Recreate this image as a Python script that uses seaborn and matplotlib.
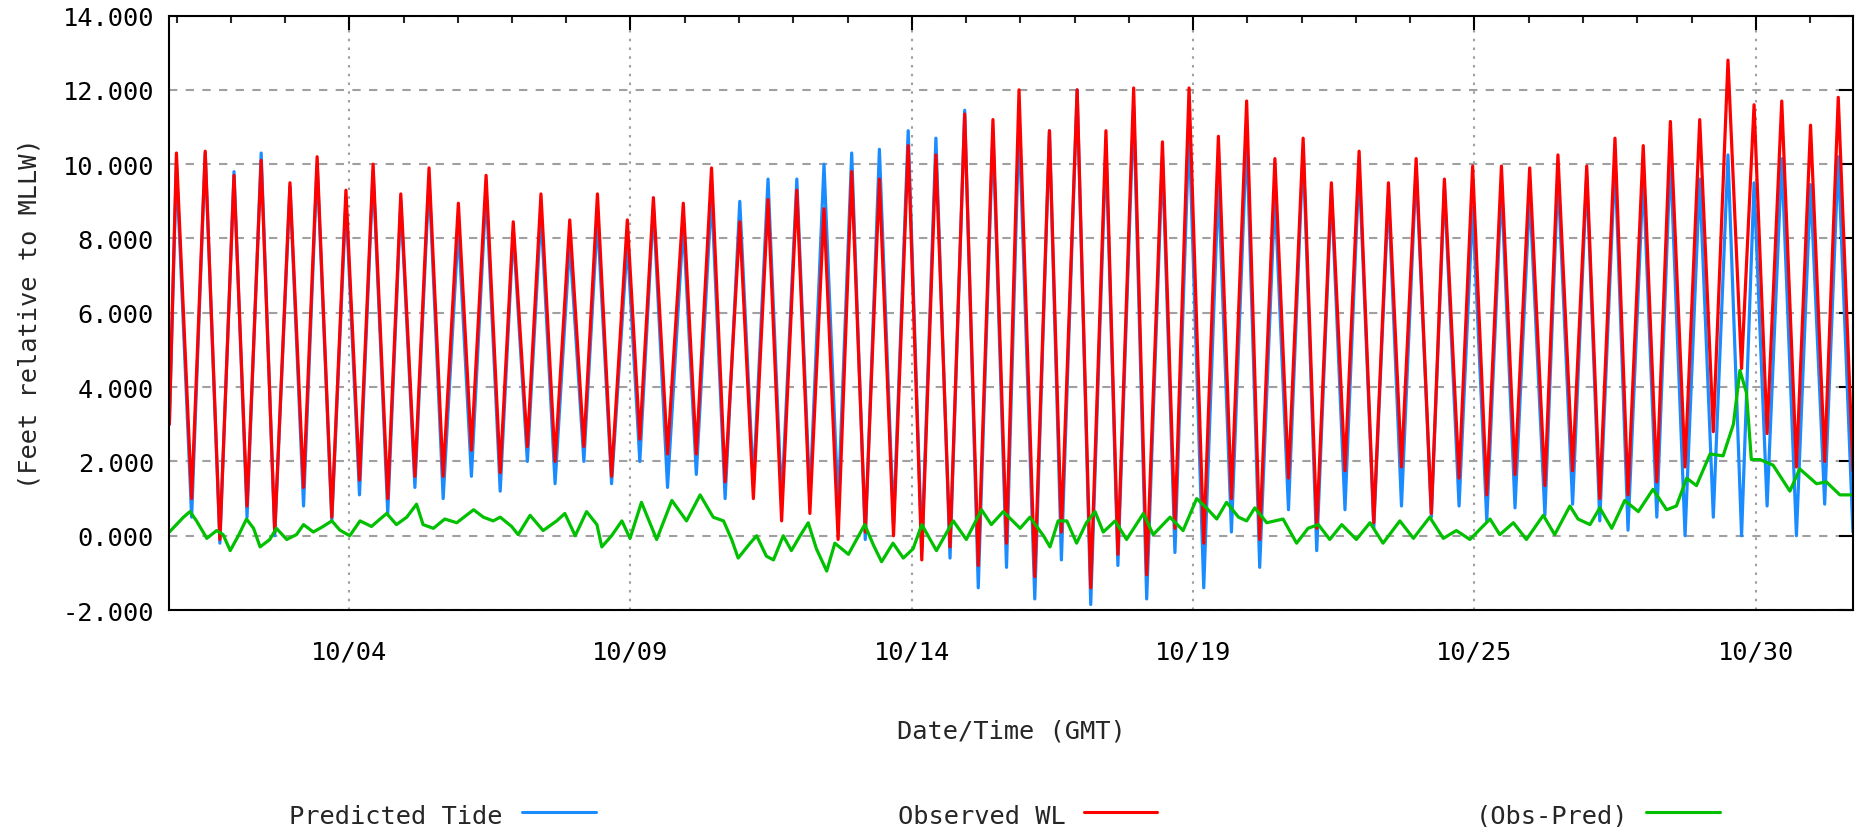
import numpy as np
import pandas as pd
import matplotlib
matplotlib.use("Agg")
import matplotlib.pyplot as plt
import matplotlib.dates as mdates
from matplotlib.lines import Line2D
from matplotlib.ticker import FixedLocator, FormatStrFormatter
import seaborn as sns

# ---------------- data (days since 10/01 00:00 GMT) ----------------
start_level_obs = 3.0
start_level_pred = 3.0

high_day = [0.13, 0.66, 1.19, 1.69, 2.22, 2.72, 3.25, 3.75, 4.26, 4.78,
            5.32, 5.83, 6.33, 6.84, 7.37, 7.88, 8.43, 8.91, 9.46, 9.98,
            10.50, 11.02, 11.55, 12.05, 12.56, 13.07, 13.60, 14.11, 14.64, 15.16,
            15.64, 16.20, 16.71, 17.24, 17.75, 18.28, 18.77, 19.31, 19.83, 20.35,
            20.87, 21.39, 21.90, 22.44, 22.95, 23.47, 23.99, 24.52, 25.04, 25.56,
            26.09, 26.61, 27.13, 27.63, 28.17, 28.69, 29.17, 29.68, 30.21, 30.72]

low_day = [0.41, 0.93, 1.43, 1.94, 2.47, 2.99, 3.50, 4.02, 4.52, 5.04,
           5.56, 6.09, 6.59, 7.10, 7.63, 8.14, 8.66, 9.17, 9.70, 10.23,
           10.75, 11.27, 11.79, 12.31, 12.81, 13.33, 13.85, 14.37, 14.89, 15.41,
           15.93, 16.42, 16.96, 17.46, 17.99, 18.51, 19.04, 19.55, 20.07, 20.60,
           21.12, 21.64, 22.17, 22.68, 23.23, 23.74, 24.25, 24.77, 25.32, 25.83,
           26.33, 26.85, 27.38, 27.90, 28.42, 28.94, 29.41, 29.95, 30.47, 30.99]

obs_high = [10.3, 10.35, 9.7, 10.1, 9.5, 10.2, 9.3, 10.0, 9.2, 9.9,
            8.95, 9.7, 8.45, 9.2, 8.5, 9.2, 8.5, 9.1, 8.95, 9.9,
            8.45, 9.05, 9.3, 8.8, 9.8, 9.6, 10.5, 10.25, 11.35, 11.2,
            12.0, 10.9, 12.0, 10.9, 12.05, 10.6, 12.05, 10.75, 11.7, 10.15,
            10.7, 9.5, 10.35, 9.5, 10.15, 9.6, 9.95, 9.95, 9.9, 10.25,
            9.95, 10.7, 10.5, 11.15, 11.2, 12.8, 11.6, 11.7, 11.05, 11.8]

pred_high = [10.0, 10.3, 9.8, 10.3, 9.4, 10.0, 9.0, 9.8, 9.0, 9.6,
             8.3, 9.3, 8.2, 8.7, 7.9, 8.55, 7.9, 8.85, 8.4, 9.2,
             9.0, 9.6, 9.6, 10.0, 10.3, 10.4, 10.9, 10.7, 11.45, 10.9,
             11.15, 10.9, 12.0, 10.5, 11.55, 10.2, 10.95, 9.5, 10.75, 9.2,
             10.4, 9.3, 9.95, 9.2, 9.9, 9.4, 8.85, 9.4, 9.2, 9.7,
             9.7, 10.1, 9.7, 10.2, 9.6, 10.25, 9.5, 10.15, 9.45, 10.2]

obs_low = [1.0, -0.1, 0.8, 0.1, 1.3, 0.5, 1.5, 1.0, 1.6, 1.6,
           2.3, 1.7, 2.4, 2.0, 2.4, 1.6, 2.6, 2.2, 2.2, 1.45,
           1.0, 0.4, 0.6, -0.1, 0.1, 0.0, -0.65, -0.3, -0.8, -0.2,
           -1.1, 0.1, -1.4, -0.5, -1.05, 0.2, -0.2, 1.0, -0.1, 1.55,
           0.2, 1.75, 0.35, 1.85, 0.6, 1.55, 1.1, 1.65, 1.35, 1.75,
           1.0, 1.1, 1.45, 1.85, 2.8, 4.5, 2.75, 1.85, 2.0, 1.75]

pred_low = [0.5, -0.2, 0.5, 0.0, 0.8, 0.4, 1.1, 0.6, 1.3, 1.0,
            1.6, 1.2, 2.0, 1.4, 2.0, 1.4, 2.0, 1.3, 1.65, 1.0,
            1.4, 0.9, 1.0, 0.8, -0.1, 0.3, -0.4, -0.6, -1.4, -0.85,
            -1.7, -0.65, -1.85, -0.8, -1.7, -0.45, -1.4, 0.1, -0.85, 0.7,
            -0.4, 0.7, 0.2, 0.8, 0.5, 0.8, 0.4, 0.75, 0.55, 0.85,
            0.4, 0.15, 0.5, 0.0, 0.5, 0.0, 0.8, 0.0, 0.85, 0.1]

resid_day = [0.00, 0.13, 0.26, 0.38, 0.50, 0.69, 0.87, 0.99, 1.12, 1.27,
             1.42, 1.55, 1.67, 1.85, 1.97, 2.16, 2.34, 2.47, 2.65, 2.83,
             2.99, 3.14, 3.32, 3.51, 3.72, 4.00, 4.18, 4.37, 4.55, 4.67,
             4.86, 5.07, 5.29, 5.60, 5.78, 5.96, 6.09, 6.30, 6.42, 6.64,
             6.88, 7.13, 7.28, 7.47, 7.68, 7.87, 7.96, 8.14, 8.33, 8.48,
             8.69, 8.97, 9.25, 9.52, 9.77, 10.01, 10.20, 10.35, 10.47, 10.69,
             10.81, 10.99, 11.12, 11.30, 11.45, 11.61, 11.76, 11.91, 12.10, 12.25,
             12.50, 12.80, 12.96, 13.11, 13.32, 13.51, 13.69, 13.85, 14.12, 14.43,
             14.67, 14.95, 15.13, 15.35, 15.59, 15.66, 15.84, 16.09, 16.21, 16.36,
             16.52, 16.70, 16.88, 17.04, 17.19, 17.41, 17.62, 17.93, 18.11, 18.42,
             18.66, 18.91, 19.09, 19.28, 19.46, 19.68, 19.83, 19.98, 20.20, 20.50,
             20.75, 20.96, 21.15, 21.36, 21.58, 21.85, 22.10, 22.34, 22.65, 22.90,
             23.20, 23.45, 23.69, 23.94, 24.31, 24.49, 24.74, 24.98, 25.29, 25.50,
             25.78, 25.93, 26.15, 26.33, 26.55, 26.79, 27.04, 27.31, 27.56, 27.74,
             27.93, 28.11, 28.36, 28.60, 28.79, 28.91, 29.03, 29.12, 29.28, 29.52,
             29.83, 30.01, 30.32, 30.50, 30.75, 31.00]

resid_val = [0.10, 0.30, 0.50, 0.65, 0.40, -0.07, 0.14, 0.03, -0.40, 0.00,
             0.45, 0.20, -0.30, -0.10, 0.20, -0.10, 0.03, 0.30, 0.10, 0.25,
             0.40, 0.15, 0.00, 0.40, 0.25, 0.60, 0.30, 0.50, 0.85, 0.30,
             0.20, 0.45, 0.35, 0.70, 0.50, 0.40, 0.50, 0.25, 0.03, 0.55,
             0.14, 0.40, 0.60, 0.00, 0.65, 0.30, -0.30, 0.00, 0.40, -0.07,
             0.90, -0.10, 0.95, 0.40, 1.10, 0.50, 0.40, -0.10, -0.60, -0.20,
             0.00, -0.55, -0.65, 0.00, -0.40, 0.00, 0.35, -0.35, -0.95, -0.20,
             -0.50, 0.30, -0.25, -0.70, -0.20, -0.60, -0.35, 0.30, -0.40, 0.40,
             -0.10, 0.70, 0.30, 0.65, 0.30, 0.20, 0.50, 0.00, -0.30, 0.40,
             0.40, -0.20, 0.35, 0.65, 0.10, 0.40, -0.10, 0.60, 0.03, 0.50,
             0.14, 1.00, 0.75, 0.45, 0.90, 0.50, 0.40, 0.75, 0.35, 0.45,
             -0.20, 0.20, 0.30, -0.10, 0.30, -0.10, 0.35, -0.20, 0.40, -0.07,
             0.50, -0.07, 0.14, -0.10, 0.45, 0.03, 0.35, -0.10, 0.55, 0.03,
             0.80, 0.45, 0.30, 0.75, 0.20, 0.95, 0.65, 1.25, 0.70, 0.80,
             1.55, 1.35, 2.20, 2.15, 3.00, 4.45, 3.85, 2.05, 2.05, 1.90,
             1.20, 1.80, 1.40, 1.45, 1.10, 1.10]

series_names = ["Predicted Tide", "Observed WL", "(Obs-Pred)"]
series_colors = ["#1a8cff", "#ff0000", "#00c000"]
y_ticks = [-2, 0, 2, 4, 6, 8, 10, 12, 14]

# ---------------- assemble long table ----------------
t_start = pd.Timestamp("2019-10-01 00:00")

def to_time(days):
    return t_start + pd.to_timedelta(np.asarray(days, dtype=float), unit="D")

tide_days = np.concatenate([[0.0], high_day, low_day])
order = np.argsort(tide_days)
obs_vals = np.concatenate([[start_level_obs], obs_high, obs_low])[order]
pred_vals = np.concatenate([[start_level_pred], pred_high, pred_low])[order]
tide_times = to_time(tide_days[order])

df = pd.concat([
    pd.DataFrame({"time": tide_times, "value": pred_vals, "series": series_names[0]}),
    pd.DataFrame({"time": tide_times, "value": obs_vals, "series": series_names[1]}),
    pd.DataFrame({"time": to_time(resid_day), "value": resid_val, "series": series_names[2]}),
], ignore_index=True)

# ---------------- figure ----------------
sns.set_style("white")
plt.rcParams["font.family"] = ["DejaVu Sans Mono", "DejaVu Sans"]
plt.rcParams["axes.unicode_minus"] = False

FS = 18.3
fig = plt.figure(figsize=(18.57, 8.28), dpi=100)
ax = fig.add_axes([0.0912, 0.262, 0.9069, 0.718])

sns.lineplot(data=df, x="time", y="value", hue="series", hue_order=series_names,
             palette=series_colors, linewidth=2.3, legend=False, estimator=None,
             ax=ax)

ax.set_xlim(t_start, t_start + pd.Timedelta(days=31))
ax.set_ylim(-2, 14)

# ticks (gnuplot-like: major every ~5.18 d, minor 1 d after each major)
major_days = [3.31 + 5.178 * i for i in range(6)]
minor_days = []
for i in range(-1, 6):
    m = 3.31 + 5.178 * i
    for k in range(1, 5):
        d = m + k
        if 0 < d < 31:
            minor_days.append(d)
ax.xaxis.set_major_locator(FixedLocator(mdates.date2num(to_time(major_days))))
ax.xaxis.set_minor_locator(FixedLocator(mdates.date2num(to_time(minor_days))))
ax.xaxis.set_major_formatter(mdates.DateFormatter("%m/%d"))
ax.yaxis.set_major_locator(FixedLocator(y_ticks))
ax.yaxis.set_major_formatter(FormatStrFormatter("%.3f"))

ax.tick_params(axis="both", which="major", direction="in", length=10, width=1.5,
               top=True, right=True, labelsize=FS, colors="black")
ax.tick_params(axis="both", which="minor", direction="in", length=5, width=1.5,
               top=True, right=True)
ax.tick_params(axis="x", which="major", pad=21)
ax.tick_params(axis="y", which="major", pad=11)

ax.set_axisbelow(True)
ax.grid(False)
ax.xaxis.grid(True, which="major", color="#a0a0a0", linestyle=(0, (1.2, 3)), linewidth=1.5)
ax.yaxis.grid(True, which="major", color="#a0a0a0", linestyle=(0, (4, 4)), linewidth=1.5)

for s in ax.spines.values():
    s.set_visible(True)
    s.set_color("black")
    s.set_linewidth(1.5)

ax.set_xlabel("Date/Time (GMT)", fontsize=FS)
ax.set_ylabel("(Feet relative to MLLW)", fontsize=FS)
ax.xaxis.set_label_coords(0.5, -0.183)
ax.yaxis.set_label_coords(-0.0757, 0.5)

# legend (gnuplot style: text then sample line, in one row at the bottom)
W, H = 1857.0, 828.0
legend_items = [(503, 522, 596), (1066, 1084, 1157), (1628, 1646, 1720)]
for name, color, (tx, x0, x1) in zip(series_names, series_colors, legend_items):
    fig.text(tx / W, (H - 824) / H, name, ha="right", va="baseline", fontsize=FS)
    fig.add_artist(Line2D([x0 / W, x1 / W], [(H - 813) / H] * 2,
                          transform=fig.transFigure, color=color, linewidth=2.2))

fig.savefig("out.png", dpi=100)
